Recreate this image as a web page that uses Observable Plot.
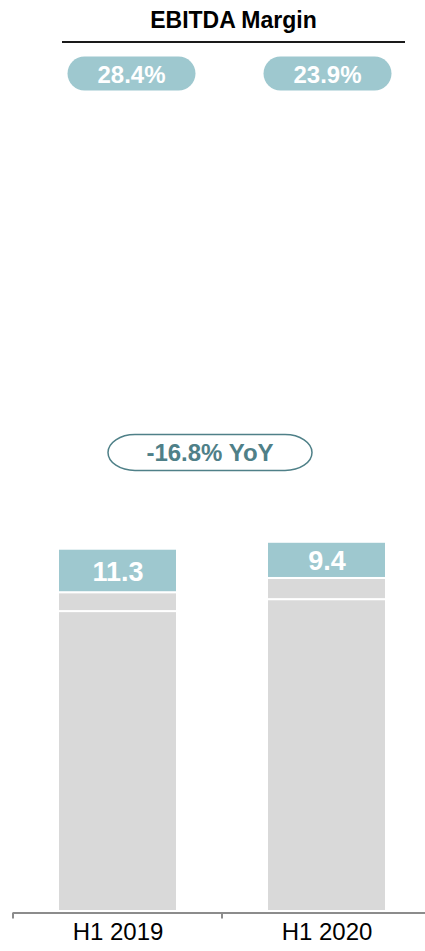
<!DOCTYPE html>
<html><head><meta charset="utf-8">
<script src="https://cdn.jsdelivr.net/npm/d3@7"></script>
<script src="https://cdn.jsdelivr.net/npm/@observablehq/plot@0.6"></script>
<style>
body{margin:0;background:#fff;font-family:"Liberation Sans",Arial,sans-serif;}
#head{position:relative;width:425px;height:50px;}
#title{position:absolute;left:62px;width:343px;top:7px;text-align:center;font-weight:bold;font-size:23px;line-height:26px;color:#000;}
#rule{position:absolute;left:62px;width:343px;top:41px;height:0;border-top:2px solid #1a1a1a;}
#chart svg{display:block;overflow:visible;}
</style></head><body>
<div id="head"><div id="title">EBITDA Margin</div><div id="rule"></div></div>
<div id="chart"></div>
<script>
// ---- data ----
const periods = ["H1 2019", "H1 2020"];
const segments = ["Other costs", "Operating costs", "EBITDA"];
const otherCosts = [77.9, 81.0];
const operatingCosts = [4.9, 5.5];
const ebitda = [11.3, 9.4];
const marginLabels = ["28.4%", "23.9%"];
const yoyLabel = "-16.8% YoY";

// ---- table ----
const series = [otherCosts, operatingCosts, ebitda];
const rows = periods.flatMap((p, i) => segments.map((s, k) => ({period: p, segment: s, value: series[k][i]})));

const TEAL = "#9ec8cf", GRAY = "#d9d9d9", DARK = "#4f8088", AXIS = "#8c8c8c";
const FONT = '"Liberation Sans", Arial, sans-serif';

function annotations(index, scales, values, dims) {
  const x = scales.x;
  const bw = x.bandwidth(), step = x.step();
  const g = d3.create("svg:g").attr("font-family", FONT);
  const base = dims.height - dims.marginBottom + 1.5;
  // category boundary ticks
  const bounds = [x(periods[0]) - (step - bw) / 2, ...periods.map(p => x(p) + bw + (step - bw) / 2)];
  bounds.forEach(b => g.append("line").attr("x1", b).attr("x2", b).attr("y1", base).attr("y2", base + 6)
    .attr("stroke", AXIS).attr("stroke-width", 2));
  // margin pills
  const pillShift = [14, 1];
  periods.forEach((p, i) => {
    const cx = x(p) + bw / 2 + pillShift[i];
    g.append("rect").attr("x", cx - 64).attr("y", 6.5).attr("width", 128).attr("height", 34)
      .attr("rx", 17).attr("fill", TEAL);
    g.append("text").attr("x", cx).attr("y", 24.5).attr("dy", "0.35em").attr("text-anchor", "middle")
      .attr("font-size", 24).attr("font-weight", "bold").attr("fill", "#fff").text(marginLabels[i]);
  });
  // YoY pill
  const c0 = x(periods[0]) + bw / 2, c1 = x(periods[1]) + bw / 2;
  const cx = (c0 + c1) / 2 - 12;
  g.append("rect").attr("x", cx - 102).attr("y", 384.5).attr("width", 204).attr("height", 36)
    .attr("rx", 27).attr("ry", 18).attr("fill", "#fff").attr("stroke", DARK).attr("stroke-width", 1.5);
  g.append("text").attr("x", cx).attr("y", 403).attr("dy", "0.35em").attr("text-anchor", "middle")
    .attr("font-size", 24).attr("font-weight", "bold").attr("fill", DARK).text(yoyLabel);
  return g.node();
}

const chart = Plot.plot({
  width: 425,
  height: 901,
  marginTop: 0, marginBottom: 40, marginLeft: 13, marginRight: 0,
  x: {domain: periods, range: [13, 431], paddingInner: 0.44, paddingOuter: 0.22, axis: null},
  y: {domain: [0, 100], range: [861, 476], axis: null},
  color: {domain: segments, range: [GRAY, GRAY, TEAL]},
  style: {fontFamily: FONT, background: "#fff", overflow: "visible"},
  marks: [
    Plot.barY(rows, {x: "period", y: "value", fill: "segment", stroke: "#fff", strokeWidth: 2, insetLeft: -1, insetRight: -1}),
    Plot.text(rows, Plot.stackY({x: "period", y: "value", z: "segment",
      text: d => d.segment === "EBITDA" ? d.value.toFixed(1) : null,
      fill: "#fff", fontSize: 27, fontWeight: "bold", dy: 1})),
    Plot.ruleY([0], {stroke: AXIS, strokeWidth: 2, dy: 1.5}),
    Plot.text(periods, {x: d => d, frameAnchor: "bottom", dy: 28, fontSize: 24, fill: "#000"}),
    annotations
  ]
});
document.getElementById("chart").append(chart);
</script>
</body></html>
